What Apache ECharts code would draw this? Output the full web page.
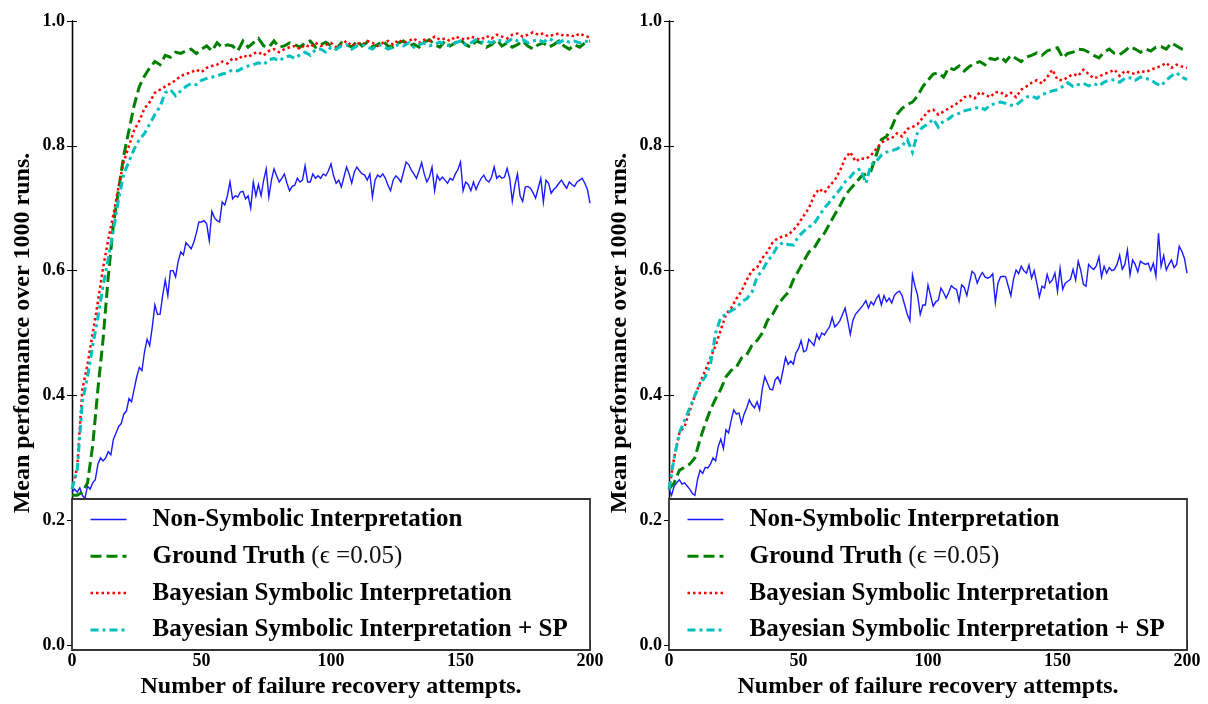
<!DOCTYPE html>
<html>
<head>
<meta charset="utf-8">
<script src="https://cdn.jsdelivr.net/npm/echarts@6/dist/echarts.min.js"></script>
<style>
  html, body { margin: 0; padding: 0; background: #fff; }
  #chart { width: 1208px; height: 704px; }
</style>
</head>
<body>
<div id="chart"></div>
<script>
// Attempt numbers: every attempt for the solid curves, every second attempt for the patterned ones
const attemptsFine = Array.from({ length: 201 }, (_, i) => i);
const attemptsCoarse = Array.from({ length: 101 }, (_, i) => i * 2);

const seriesNames = [
  'Non-Symbolic Interpretation',
  'Ground Truth',
  'Bayesian Symbolic Interpretation',
  'Bayesian Symbolic Interpretation + SP'
];

const xTicks = [0, 50, 100, 150, 200];
const yTicks = [0.0, 0.2, 0.4, 0.6, 0.8, 1.0];

// ---- Left panel ----
const leftNonSymbolic = [
  0.245,0.25,0.245,0.252,0.24,0.235,0.255,0.25,0.26,0.265,0.29,0.3,0.295,0.3,0.31,0.305,0.33,0.34,0.35,0.355,
  0.37,0.375,0.395,0.39,0.41,0.43,0.445,0.44,0.47,0.49,0.48,0.51,0.545,0.53,0.53,0.56,0.585,0.56,0.6,0.6,
  0.59,0.615,0.63,0.625,0.645,0.64,0.635,0.645,0.66,0.678,0.678,0.68,0.675,0.648,0.695,0.685,0.68,0.678,0.71,0.705,
  0.72,0.742,0.715,0.72,0.718,0.726,0.727,0.715,0.72,0.70,0.742,0.72,0.738,0.72,0.745,0.763,0.718,0.745,0.763,0.752,
  0.742,0.748,0.755,0.74,0.728,0.735,0.737,0.748,0.742,0.745,0.768,0.742,0.742,0.755,0.748,0.752,0.748,0.755,0.752,0.76,
  0.771,0.752,0.74,0.745,0.734,0.75,0.766,0.755,0.74,0.758,0.766,0.76,0.755,0.753,0.745,0.755,0.718,0.745,0.753,0.75,
  0.755,0.748,0.737,0.728,0.745,0.752,0.748,0.742,0.758,0.774,0.77,0.761,0.755,0.748,0.76,0.773,0.755,0.742,0.75,0.766,
  0.728,0.753,0.745,0.75,0.745,0.74,0.748,0.745,0.755,0.762,0.774,0.728,0.742,0.738,0.728,0.742,0.73,0.74,0.748,0.753,
  0.745,0.742,0.75,0.766,0.748,0.752,0.748,0.75,0.764,0.748,0.711,0.737,0.755,0.72,0.711,0.734,0.735,0.732,0.725,0.716,
  0.732,0.748,0.71,0.745,0.74,0.724,0.73,0.734,0.74,0.745,0.738,0.732,0.742,0.738,0.735,0.742,0.745,0.748,0.74,0.73,
  0.708
];
const leftGroundTruth = [
  0.24,0.24,0.245,0.26,0.32,0.41,0.49,0.59,0.675,0.73,0.785,0.825,0.865,0.895,0.912,0.925,0.935,0.93,0.945,0.942,
  0.95,0.948,0.952,0.955,0.948,0.955,0.96,0.952,0.965,0.958,0.962,0.96,0.952,0.968,0.958,0.965,0.972,0.96,0.958,0.968,
  0.958,0.96,0.965,0.962,0.958,0.965,0.968,0.958,0.962,0.966,0.96,0.955,0.965,0.962,0.958,0.968,0.96,0.966,0.958,0.962,
  0.968,0.96,0.958,0.965,0.968,0.96,0.963,0.958,0.966,0.97,0.962,0.958,0.968,0.96,0.965,0.97,0.962,0.958,0.968,0.965,
  0.958,0.962,0.97,0.96,0.965,0.958,0.962,0.968,0.96,0.955,0.962,0.965,0.958,0.962,0.968,0.96,0.955,0.962,0.958,0.965,
  0.968
];
const leftBayesian = [
  0.25,0.285,0.41,0.45,0.5,0.55,0.605,0.65,0.69,0.735,0.775,0.8,0.825,0.84,0.86,0.87,0.885,0.89,0.895,0.9,
  0.905,0.912,0.915,0.918,0.922,0.918,0.925,0.928,0.93,0.935,0.932,0.94,0.938,0.945,0.942,0.948,0.95,0.945,0.952,0.955,
  0.95,0.955,0.958,0.96,0.955,0.962,0.958,0.965,0.96,0.962,0.965,0.958,0.962,0.968,0.96,0.965,0.962,0.968,0.965,0.96,
  0.965,0.968,0.962,0.97,0.965,0.968,0.972,0.965,0.97,0.968,0.975,0.97,0.972,0.968,0.975,0.972,0.97,0.975,0.972,0.97,
  0.976,0.972,0.978,0.975,0.972,0.978,0.98,0.975,0.978,0.982,0.978,0.98,0.975,0.978,0.98,0.976,0.978,0.975,0.98,0.976,
  0.974
];
const leftBayesianSP = [
  0.25,0.28,0.39,0.43,0.48,0.525,0.575,0.62,0.665,0.715,0.755,0.775,0.795,0.81,0.82,0.835,0.85,0.863,0.885,0.89,
  0.88,0.888,0.895,0.9,0.898,0.905,0.908,0.91,0.912,0.915,0.917,0.922,0.92,0.925,0.928,0.93,0.933,0.93,0.938,0.94,
  0.936,0.942,0.944,0.94,0.946,0.95,0.945,0.954,0.955,0.95,0.958,0.955,0.96,0.962,0.955,0.96,0.962,0.958,0.955,0.962,
  0.96,0.955,0.958,0.962,0.96,0.965,0.958,0.962,0.965,0.96,0.963,0.966,0.962,0.96,0.965,0.968,0.962,0.965,0.97,0.966,
  0.968,0.965,0.97,0.968,0.966,0.972,0.968,0.97,0.965,0.968,0.97,0.966,0.972,0.968,0.965,0.97,0.966,0.968,0.965,0.968,
  0.966
];

// ---- Right panel ----
const rightNonSymbolic = [
  0.25,0.24,0.255,0.26,0.265,0.258,0.26,0.255,0.25,0.243,0.24,0.265,0.28,0.275,0.285,0.284,0.29,0.3,0.295,0.318,
  0.33,0.315,0.345,0.34,0.36,0.377,0.37,0.372,0.355,0.37,0.38,0.393,0.385,0.38,0.39,0.377,0.41,0.43,0.42,0.41,
  0.409,0.425,0.43,0.42,0.44,0.461,0.45,0.455,0.45,0.468,0.475,0.488,0.47,0.472,0.49,0.485,0.48,0.498,0.49,0.5,
  0.497,0.504,0.51,0.525,0.51,0.514,0.52,0.53,0.54,0.52,0.498,0.52,0.53,0.535,0.54,0.545,0.552,0.54,0.55,0.545,
  0.555,0.561,0.545,0.56,0.55,0.556,0.548,0.56,0.565,0.567,0.56,0.545,0.53,0.52,0.593,0.575,0.56,0.53,0.545,0.545,
  0.577,0.56,0.543,0.55,0.553,0.572,0.565,0.556,0.565,0.576,0.572,0.57,0.551,0.577,0.573,0.56,0.58,0.599,0.595,0.58,
  0.59,0.597,0.59,0.588,0.59,0.595,0.549,0.58,0.59,0.591,0.59,0.575,0.56,0.586,0.601,0.595,0.607,0.6,0.596,0.609,
  0.588,0.6,0.58,0.558,0.575,0.572,0.594,0.58,0.585,0.596,0.567,0.604,0.57,0.58,0.583,0.586,0.602,0.585,0.615,0.6,
  0.578,0.575,0.61,0.605,0.602,0.608,0.622,0.59,0.607,0.596,0.605,0.6,0.602,0.61,0.625,0.602,0.61,0.633,0.593,0.617,
  0.61,0.598,0.615,0.612,0.61,0.612,0.6,0.612,0.591,0.66,0.607,0.624,0.601,0.61,0.617,0.605,0.61,0.639,0.631,0.62,
  0.596
];
const rightGroundTruth = [
  0.25,0.26,0.28,0.285,0.29,0.3,0.33,0.355,0.377,0.395,0.41,0.43,0.44,0.445,0.46,0.465,0.48,0.488,0.5,0.52,
  0.53,0.545,0.556,0.565,0.585,0.6,0.615,0.63,0.636,0.65,0.66,0.675,0.69,0.704,0.72,0.731,0.74,0.75,0.755,0.76,
  0.785,0.81,0.815,0.83,0.85,0.86,0.866,0.87,0.88,0.895,0.905,0.915,0.917,0.91,0.925,0.922,0.928,0.92,0.927,0.932,
  0.935,0.93,0.94,0.938,0.943,0.935,0.945,0.94,0.935,0.942,0.945,0.949,0.945,0.952,0.955,0.957,0.941,0.948,0.95,0.955,
  0.954,0.95,0.945,0.941,0.95,0.955,0.948,0.946,0.952,0.959,0.955,0.95,0.955,0.952,0.958,0.959,0.955,0.965,0.96,0.955,
  0.953
];
const rightBayesian = [
  0.25,0.3,0.34,0.35,0.375,0.4,0.42,0.44,0.46,0.48,0.505,0.53,0.54,0.555,0.567,0.585,0.6,0.605,0.62,0.63,
  0.645,0.652,0.655,0.657,0.665,0.675,0.688,0.7,0.72,0.731,0.725,0.736,0.745,0.76,0.78,0.79,0.775,0.78,0.779,0.785,
  0.795,0.805,0.81,0.812,0.82,0.815,0.827,0.83,0.835,0.845,0.855,0.858,0.85,0.855,0.86,0.865,0.87,0.878,0.88,0.876,
  0.886,0.882,0.878,0.886,0.886,0.88,0.885,0.878,0.89,0.895,0.901,0.905,0.9,0.91,0.922,0.906,0.905,0.91,0.915,0.912,
  0.922,0.915,0.908,0.911,0.915,0.918,0.922,0.912,0.92,0.917,0.915,0.92,0.918,0.922,0.925,0.928,0.933,0.925,0.93,0.927,
  0.925
];
const rightBayesianSP = [
  0.25,0.3,0.34,0.36,0.38,0.4,0.418,0.43,0.45,0.5,0.525,0.53,0.536,0.54,0.55,0.555,0.565,0.59,0.6,0.615,
  0.625,0.64,0.645,0.642,0.641,0.655,0.663,0.67,0.675,0.688,0.7,0.71,0.72,0.73,0.742,0.75,0.76,0.763,0.74,0.77,
  0.775,0.785,0.79,0.792,0.795,0.8,0.81,0.79,0.822,0.83,0.835,0.843,0.83,0.84,0.843,0.85,0.852,0.856,0.858,0.86,
  0.862,0.858,0.865,0.868,0.87,0.868,0.865,0.865,0.872,0.878,0.88,0.876,0.882,0.885,0.888,0.89,0.895,0.901,0.895,0.898,
  0.9,0.896,0.9,0.896,0.902,0.905,0.906,0.902,0.908,0.909,0.905,0.91,0.908,0.906,0.9,0.896,0.905,0.912,0.917,0.91,
  0.906
];

const FONT = "'Liberation Serif', 'DejaVu Serif', serif";
const panels = [
  { left: 72, values: [leftNonSymbolic, leftGroundTruth, leftBayesian, leftBayesianSP] },
  { left: 669, values: [rightNonSymbolic, rightGroundTruth, rightBayesian, rightBayesianSP] }
];
const PLOT_TOP = 21, PLOT_W = 518, PLOT_H = 629;

const styles = [
  { color: '#1a1aff', width: 1.4, type: 'solid', xs: attemptsFine },
  { color: '#008000', width: 3, type: [11, 5], xs: attemptsCoarse },
  { color: '#ff0000', width: 2.5, type: [2.5, 3], xs: attemptsCoarse },
  { color: '#00bfbf', width: 3, type: [8, 4, 3, 4], xs: attemptsCoarse }
];

const grid = [], xAxis = [], yAxis = [], series = [], legend = [], graphic = [];

panels.forEach((p, pi) => {
  grid.push({ left: p.left, top: PLOT_TOP, width: PLOT_W, height: PLOT_H });
  const axisLine = { show: true, lineStyle: { color: '#000', width: 1.3 } };
  const axisTick = { show: true, inside: true, length: 5, lineStyle: { color: '#000', width: 1 } };
  // bottom x axis with labels, top x axis for the mirrored ticks
  xAxis.push({
    type: 'value', gridIndex: pi, min: xTicks[0], max: xTicks[xTicks.length - 1], interval: 50,
    position: 'bottom', axisLine, axisTick, splitLine: { show: false },
    axisLabel: { fontFamily: FONT, fontSize: 18, fontWeight: 'bold', color: '#000', margin: 7 },
    name: 'Number of failure recovery attempts.', nameLocation: 'middle', nameGap: 27,
    nameTextStyle: { fontFamily: FONT, fontSize: 24, fontWeight: 'bold', color: '#000' }
  });
  xAxis.push({
    type: 'value', gridIndex: pi, min: 0, max: 200, interval: 50, position: 'top',
    axisLine, axisTick, axisLabel: { show: false }, splitLine: { show: false }
  });
  yAxis.push({
    type: 'value', gridIndex: pi, min: yTicks[0], max: yTicks[yTicks.length - 1], interval: 0.2,
    position: 'left', axisLine, axisTick, splitLine: { show: false },
    axisLabel: { fontFamily: FONT, fontSize: 18, fontWeight: 'bold', color: '#000', margin: 7,
      formatter: v => v.toFixed(1) },
    name: 'Mean performance over 1000 runs.', nameLocation: 'middle', nameGap: 37, nameRotate: 90,
    nameTextStyle: { fontFamily: FONT, fontSize: 24, fontWeight: 'bold', color: '#000' }
  });
  yAxis.push({
    type: 'value', gridIndex: pi, min: 0, max: 1, interval: 0.2, position: 'right',
    axisLine, axisTick, axisLabel: { show: false }, splitLine: { show: false }
  });

  p.values.forEach((vals, si) => {
    const st = styles[si];
    series.push({
      name: seriesNames[si], type: 'line', xAxisIndex: pi * 2, yAxisIndex: pi * 2,
      data: vals.map((v, i) => [st.xs[i], v]),
      symbol: 'none', showSymbol: false, z: 2, animation: false,
      lineStyle: { color: st.color, width: st.width, type: st.type, cap: 'butt', join: 'miter' },
      itemStyle: { color: st.color }
    });
  });

  // white legend box laid over the lower part of the plot
  graphic.push({
    type: 'rect', z: 50,
    shape: { x: p.left, y: 499, width: PLOT_W, height: 151 },
    style: { fill: '#fff', stroke: '#333', lineWidth: 1.8 }
  });

  legend.push({
    orient: 'vertical', left: p.left + 17, top: 506, padding: 0, z: 60,
    itemWidth: 36, itemHeight: 14, itemGap: 9.8, selectedMode: false,
    data: seriesNames,
    // legend keys show only the line pattern, at the series' own width
    itemStyle: { opacity: 0 },
    lineStyle: { width: 'inherit' },
    formatter: name => name === 'Ground Truth'
      ? '{b|Ground Truth} {n|(\u03f5 =0.05)}'
      : '{b|' + name + '}',
    textStyle: {
      fontFamily: FONT, fontSize: 25, fontWeight: 'bold', color: '#000', lineHeight: 27,
      rich: {
        b: { fontFamily: FONT, fontSize: 25, fontWeight: 'bold', color: '#000', lineHeight: 27, padding: [0, 0, 0, 21] },
        n: { fontFamily: FONT, fontSize: 25, fontWeight: 'normal', color: '#111', lineHeight: 27 }
      }
    }
  });
});

const chart = echarts.init(document.getElementById('chart'), null, { renderer: 'canvas' });
chart.setOption({
  animation: false,
  backgroundColor: '#fff',
  grid, xAxis, yAxis, series, legend,
  graphic: { elements: graphic }
});
</script>
</body>
</html>
